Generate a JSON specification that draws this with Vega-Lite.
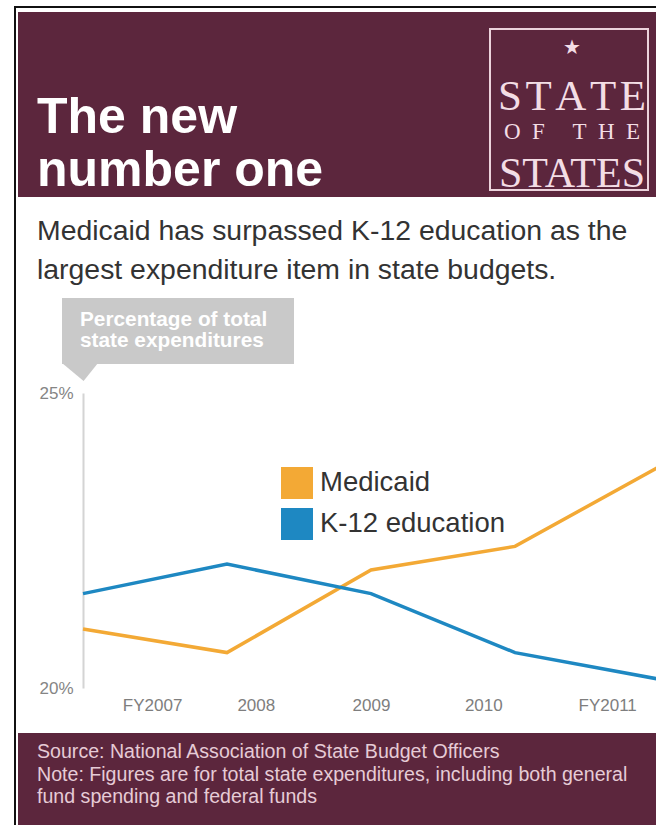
{
  "$schema": "https://vega.github.io/schema/vega-lite/v6.json",
  "width": 656,
  "height": 825,
  "autosize": {"type": "none"},
  "padding": 0,
  "background": "#ffffff",
  "config": {"view": {"stroke": null}, "font": "Liberation Sans"},
  "data": {"values": [{}]},
  "datasets": {
    "series": [
      {"year": 2007, "series": "Medicaid", "pct": 21.0},
      {"year": 2008, "series": "Medicaid", "pct": 20.6},
      {"year": 2009, "series": "Medicaid", "pct": 22.0},
      {"year": 2010, "series": "Medicaid", "pct": 22.4},
      {"year": 2011, "series": "Medicaid", "pct": 23.75},
      {"year": 2007, "series": "K-12 education", "pct": 21.6},
      {"year": 2008, "series": "K-12 education", "pct": 22.1},
      {"year": 2009, "series": "K-12 education", "pct": 21.6},
      {"year": 2010, "series": "K-12 education", "pct": 20.6},
      {"year": 2011, "series": "K-12 education", "pct": 20.15}
    ]
  },
  "resolve": {"legend": {"color": "independent"}},
  "layer": [
    {"mark": {"type": "rule", "stroke": "#111111", "strokeWidth": 2}, "encoding": {"x": {"value": 15}, "y": {"value": 7}, "y2": {"value": 825}}},
    {"mark": {"type": "rule", "stroke": "#111111", "strokeWidth": 2}, "encoding": {"x": {"value": 14}, "x2": {"value": 656}, "y": {"value": 7}}},
    {"mark": {"type": "rect", "fill": "#5c263d"}, "encoding": {"x": {"value": 18}, "x2": {"value": 656}, "y": {"value": 12}, "y2": {"value": 197}}},
    {"mark": {"type": "text", "text": "The new", "x": 37, "y": 133, "fontSize": 50, "fontWeight": "bold", "fill": "#ffffff", "align": "left", "baseline": "alphabetic"}},
    {"mark": {"type": "text", "text": "number one", "x": 37, "y": 186, "fontSize": 50, "fontWeight": "bold", "fill": "#ffffff", "align": "left", "baseline": "alphabetic"}},
    {"mark": {"type": "rect", "filled": false, "stroke": "#ecd3dc", "strokeWidth": 2}, "encoding": {"x": {"value": 490}, "x2": {"value": 648}, "y": {"value": 29}, "y2": {"value": 190}}},
    {"mark": {"type": "text", "text": "★", "x": 572, "y": 48, "fontSize": 20, "font": "DejaVu Sans", "fill": "#f3dde5", "align": "center", "baseline": "middle"}},
    {"mark": {"type": "text", "text": "S\u200aT\u200aA\u200aT\u200aE", "x": 572, "y": 110, "fontSize": 43, "font": "Liberation Serif", "fill": "#f3dde5", "align": "center", "baseline": "alphabetic"}},
    {"mark": {"type": "text", "text": "O\u2002F\u2002\u2002\u2009T\u2002H\u2002E", "x": 572, "y": 139, "fontSize": 23, "font": "Liberation Serif", "fill": "#f3dde5", "align": "center", "baseline": "alphabetic"}},
    {"mark": {"type": "text", "text": "STATES", "x": 572, "y": 187, "fontSize": 42, "font": "Liberation Serif", "fill": "#f3dde5", "align": "center", "baseline": "alphabetic"}},
    {"mark": {"type": "text", "text": "Medicaid has surpassed K-12 education as the", "x": 37, "y": 240, "fontSize": 28.4, "fill": "#333333", "align": "left", "baseline": "alphabetic"}},
    {"mark": {"type": "text", "text": "largest expenditure item in state budgets.", "x": 37, "y": 279, "fontSize": 28.4, "fill": "#333333", "align": "left", "baseline": "alphabetic"}},
    {"mark": {"type": "rect", "fill": "#c9c9c9"}, "encoding": {"x": {"value": 62}, "x2": {"value": 294}, "y": {"value": 298}, "y2": {"value": 364}}},
    {"mark": {"type": "point", "shape": "M-1,-0.5L1,-0.5L0.2,0.5Z", "filled": true, "fill": "#c9c9c9", "strokeWidth": 0, "size": 1296, "opacity": 1}, "encoding": {"x": {"value": 80}, "y": {"value": 372}}},
    {"mark": {"type": "text", "text": "Percentage of total", "x": 80, "y": 326, "fontSize": 20.8, "fontWeight": "bold", "fill": "#ffffff", "align": "left", "baseline": "alphabetic"}},
    {"mark": {"type": "text", "text": "state expenditures", "x": 80, "y": 347, "fontSize": 20.8, "fontWeight": "bold", "fill": "#ffffff", "align": "left", "baseline": "alphabetic"}},
    {"mark": {"type": "rect", "fill": "#5c263d"}, "encoding": {"x": {"value": 18}, "x2": {"value": 656}, "y": {"value": 733}, "y2": {"value": 825}}},
    {"mark": {"type": "text", "text": "Source: National Association of State Budget Officers", "x": 37, "y": 758, "fontSize": 19.6, "fill": "#e6cbd6", "align": "left", "baseline": "alphabetic"}},
    {"mark": {"type": "text", "text": "Note: Figures are for total state expenditures, including both general", "x": 37, "y": 781, "fontSize": 19.6, "fill": "#e6cbd6", "align": "left", "baseline": "alphabetic"}},
    {"mark": {"type": "text", "text": "fund spending and federal funds", "x": 37, "y": 803, "fontSize": 19.6, "fill": "#e6cbd6", "align": "left", "baseline": "alphabetic"}},
    {
      "data": {"name": "series"},
      "mark": {"type": "line", "strokeWidth": 3.5, "strokeJoin": "miter", "interpolate": "linear"},
      "encoding": {
        "x": {
          "field": "year", "type": "quantitative",
          "scale": {"domain": [2007, 2011], "range": [83, 659], "nice": false, "zero": false},
          "axis": {
            "orient": "bottom", "offset": -132, "title": null, "domain": false, "ticks": false, "grid": false,
            "values": [2007.48, 2008.2, 2009, 2009.78, 2010.64],
            "labelExpr": "datum.value < 2008 ? 'FY2007' : datum.value < 2008.5 ? '2008' : datum.value < 2009.5 ? '2009' : datum.value < 2010.2 ? '2010' : 'FY2011'",
            "labelFontSize": 17, "labelColor": "#7e7e7e", "labelPadding": 12, "labelBaseline": "middle", "labelFlush": false, "labelOverlap": false
          }
        },
        "y": {
          "field": "pct", "type": "quantitative",
          "scale": {"domain": [20, 25], "range": [688, 393], "nice": false, "zero": false},
          "axis": {
            "orient": "left", "offset": -83, "title": null, "grid": false, "ticks": false,
            "domain": true, "domainColor": "#d4d4d4", "domainWidth": 2,
            "values": [20, 25], "labelExpr": "datum.value + '%'",
            "labelFontSize": 17, "labelColor": "#858585", "labelPadding": 10, "labelBaseline": "middle"
          }
        },
        "color": {
          "field": "series", "type": "nominal",
          "scale": {"domain": ["Medicaid", "K-12 education"], "range": ["#f3a935", "#1e88c2"]},
          "legend": null
        },
        "order": {"field": "year"}
      }
    },
    {
      "data": {"name": "series"},
      "mark": {"type": "square", "size": 0, "filled": true},
      "encoding": {
        "x": {"field": "year", "type": "quantitative"},
        "y": {"field": "pct", "type": "quantitative"},
        "color": {
          "field": "series", "type": "nominal",
          "legend": {
            "orient": "none", "legendX": 281, "legendY": 467, "title": null, "padding": 0,
            "symbolType": "square", "symbolSize": 1024, "symbolStrokeWidth": 0, "symbolOpacity": 1,
            "labelFontSize": 27.5, "labelColor": "#333333", "labelOffset": 7, "labelLimit": 500, "rowPadding": 9
          }
        }
      }
    }
  ]
}
